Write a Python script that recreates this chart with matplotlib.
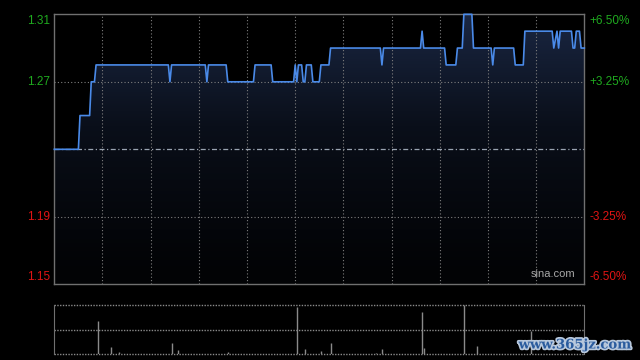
import numpy as np
import matplotlib.pyplot as plt
import matplotlib.patheffects as pe
from matplotlib.colors import LinearSegmentedColormap

# intraday price, HK session 9:30-12:00 + 13:00-16:00 -> 330 minutes
minutes = [0, 15, 16, 22, 23, 25, 26,
           71, 72, 73, 94, 95, 96,
           107, 108, 124, 125, 135, 136,
           149, 150, 151, 152, 154, 155, 156, 157, 160, 161, 165, 166, 171, 172,
           203, 204, 205, 228, 229, 230,
           243, 244, 250, 251, 254, 255, 260, 261,
           272, 273, 274, 286, 287, 292, 293,
           310, 311, 313, 314, 315, 322, 323, 324, 325, 327, 328, 330]
prices = [1.23, 1.23, 1.25, 1.25, 1.27, 1.27, 1.28,
          1.28, 1.27, 1.28, 1.28, 1.27, 1.28,
          1.28, 1.27, 1.27, 1.28, 1.28, 1.27,
          1.27, 1.28, 1.27, 1.28, 1.28, 1.27, 1.27, 1.28, 1.28, 1.27, 1.27, 1.28, 1.28, 1.29,
          1.29, 1.28, 1.29, 1.29, 1.30, 1.29,
          1.29, 1.28, 1.28, 1.29, 1.29, 1.31, 1.31, 1.29,
          1.29, 1.28, 1.29, 1.29, 1.28, 1.28, 1.30,
          1.30, 1.29, 1.30, 1.29, 1.30, 1.30, 1.29, 1.29, 1.30, 1.30, 1.29, 1.29]

vol_minutes = [27, 35, 40, 73, 77, 108, 151, 156, 166, 172, 200, 204, 229, 230, 255, 263, 297]
vol_values = [67, 15, 5, 23, 9, 5, 96, 11, 7, 23, 3, 11, 86, 13, 110, 17, 48]

prev_close = 1.23
price_ticks = [1.15, 1.19, 1.27, 1.31]
ymin, ymax = 1.15, 1.31
xmax = 330

fig = plt.figure(figsize=(6.4, 3.6), dpi=100, facecolor='black')
plt.rcParams['font.family'] = ['Liberation Sans', 'DejaVu Sans']

ax = fig.add_axes([54.3/640, 75.7/360, 530/640, 270/360], facecolor='black')
ax.set_xlim(0, xmax)
ax.set_ylim(ymin, ymax)

# gradient fill under the line
cmap = LinearSegmentedColormap.from_list('navy', ['#020305', '#0a0f1a', '#1a2743'])
grad = np.linspace(0, 1, 256).reshape(-1, 1) ** 1.3
im = ax.imshow(grad, extent=[0, xmax, ymin, ymax], origin='lower', aspect='auto',
               cmap=cmap, zorder=1)
poly = ax.fill_between(minutes, prices, ymin, color='none', lw=0)
clip = poly.get_paths()[0]
im.set_clip_path(clip, transform=ax.transData)

ax.plot(minutes, prices, color='#4a8ae8', lw=1.2, zorder=4, clip_on=False)

# grid
for xg in range(30, xmax, 30):
    ax.axvline(xg, color='#7e7e7e', lw=0.8, ls=(0, (1, 2)), zorder=3)
for yg in [1.19, 1.27]:
    ax.axhline(yg, color='#7e7e7e', lw=0.8, ls=(0, (1, 2)), zorder=3)
ax.axhline(prev_close, color='#9aa4b2', lw=0.9, ls=(0, (4, 2, 1, 2)), zorder=3)

for s in ax.spines.values():
    s.set_color('#707070')
    s.set_linewidth(1)
ax.set_xticks([])
ax.set_yticks([])

for t in price_ticks:
    col = '#1faa1f' if t > prev_close else '#e01414'
    pct = (t / prev_close - 1) * 100
    dy = 0
    if t == ymax:
        dy = -5
    elif t == ymin:
        dy = 5
    ax.annotate(f'{t:.2f}', (0, t), xycoords=('axes fraction', 'data'),
                xytext=(-3, dy), textcoords='offset points', ha='right', va='center',
                color=col, fontsize=8.5)
    ax.annotate(f'{pct:+.2f}%', (1, t), xycoords=('axes fraction', 'data'),
                xytext=(4, dy), textcoords='offset points', ha='left', va='center',
                color=col, fontsize=8.5)

ax.text(0.984, 0.02, 'sina.com', transform=ax.transAxes, ha='right', va='bottom',
        color='#a8a8a8', fontsize=8, zorder=5)

# volume panel
axv = fig.add_axes([54.3/640, 5.7/360, 530/640, 49.3/360], facecolor='black')
axv.set_xlim(0, xmax)
axv.set_ylim(0, 100)
axv.vlines(vol_minutes, 0, np.minimum(vol_values, 100), color='#8a8a8a', lw=1)
for yg in [0, 50, 100]:
    axv.axhline(yg, color='#8a8a8a', lw=1, ls=(0, (1, 1)), clip_on=False)
for k in ['top', 'bottom']:
    axv.spines[k].set_visible(False)
for k in ['left', 'right']:
    axv.spines[k].set_color('#707070')
axv.set_xticks([])
axv.set_yticks([])

fig.text(575/640, 15/360, 'www.365jz.com', ha='center', va='center', color='#2b5c9e',
         fontsize=9.5, fontweight='bold', family=['DejaVu Serif'],
         path_effects=[pe.withStroke(linewidth=2.5, foreground='#b8c8dc')])

fig.savefig('out.png', dpi=100, facecolor='black')
